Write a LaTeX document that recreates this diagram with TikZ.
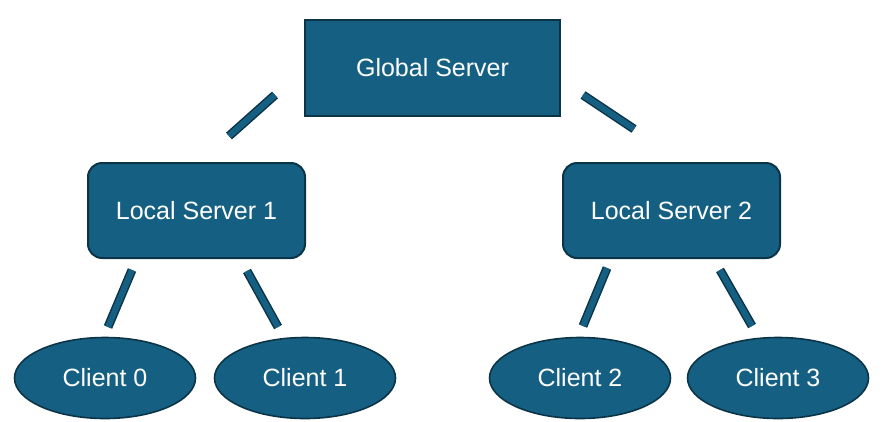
\documentclass[tikz,border=0pt]{standalone}
\usepackage{fontspec}
\setmainfont{Liberation Sans}
\usepackage{tikz}
\usetikzlibrary{positioning,shapes.geometric}
\definecolor{boxclr}{HTML}{156082}
\definecolor{lineclr}{HTML}{0C3447}
\definecolor{txtclr}{rgb}{1, 1, 1}
\tikzset{ %
  ,every node/.style={font=\fontsize{25}{28}\selectfont, text=txtclr}
  ,server/.style={draw=lineclr, line width=2pt, fill=boxclr, minimum width=255pt, minimum height=96pt}
  ,local/.style={draw=lineclr, line width=2pt, fill=boxclr, rounded corners=14pt, minimum width=217pt, minimum height=95pt}
  ,client/.style={draw=lineclr, line width=1.6pt, fill=boxclr, ellipse, inner sep=0, minimum width=181pt, minimum height=81pt}
  ,bar/.style={line width=9pt, draw=lineclr, postaction={draw=boxclr, line width=6pt}}
}

\begin{document}
\begin{tikzpicture}[x=1pt, y=-1pt]
    \useasboundingbox (0,0) rectangle (888,421);
    \node[server] (G) at (432.5,68) {Global Server};
    \node[local] (L1) at (196.5,210.5) {Local Server 1};
    \node[local] (L2) at (671.5,210.5) {Local Server 2};
    \node[client] (C0) at (105,378) {Client 0};
    \node[client] (C1) at (305,378) {Client 1};
    \node[client] (C2) at (580,378) {Client 2};
    \node[client] (C3) at (778,378) {Client 3};
    % bar ends
    \coordinate (G-a) at (275,95);
    \coordinate (L1-a) at (229,136);
    \coordinate (G-b) at (583,95);
    \coordinate (L2-a) at (634,129);
    \coordinate (L1-b) at (132,270);
    \coordinate (C0-a) at (108,327);
    \coordinate (L1-c) at (247,271);
    \coordinate (C1-a) at (278,327);
    \coordinate (L2-b) at (607,268);
    \coordinate (C2-a) at (583,326);
    \coordinate (L2-c) at (720,270);
    \coordinate (C3-a) at (752,326);
    \draw[bar] (G-a) -- (L1-a);
    \draw[bar] (G-b) -- (L2-a);
    \draw[bar] (L1-b) -- (C0-a);
    \draw[bar] (L1-c) -- (C1-a);
    \draw[bar] (L2-b) -- (C2-a);
    \draw[bar] (L2-c) -- (C3-a);
\end{tikzpicture}
\end{document}
